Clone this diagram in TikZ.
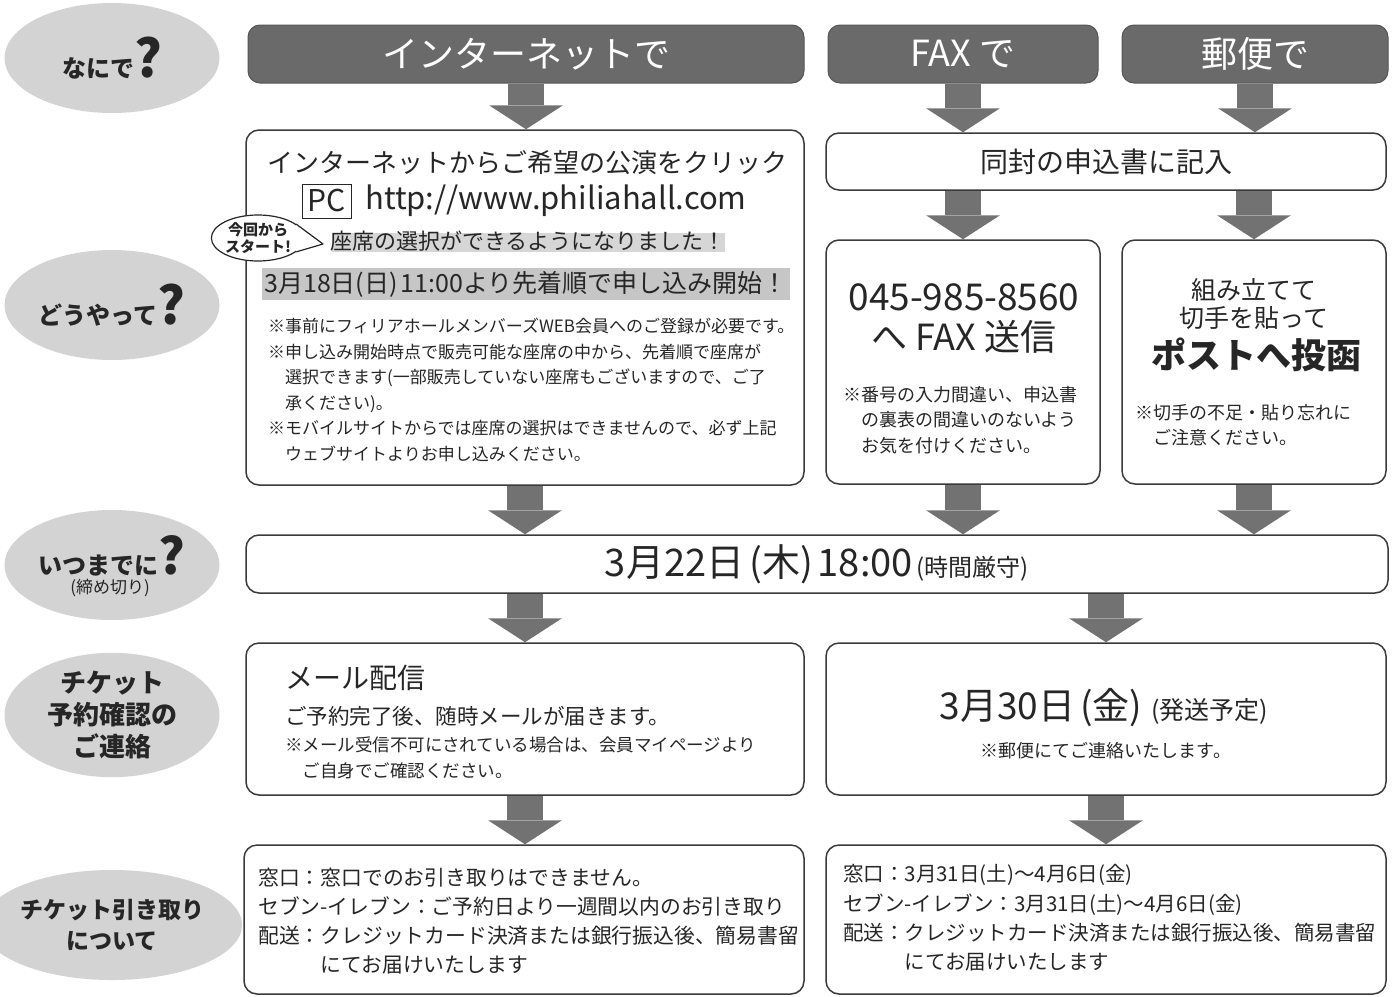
\documentclass[tikz,border=0pt]{standalone}
\usepackage{fontspec}
\setmainfont{Noto Sans CJK JP}
\usetikzlibrary{shapes.geometric,arrows.meta}

\definecolor{labelgray}{HTML}{D3D3D3}
\definecolor{headgray}{HTML}{6A6A6A}
\definecolor{arrowgray}{HTML}{727272}
\definecolor{boxline}{HTML}{3A3A3A}
\definecolor{bargray}{HTML}{C6C6C6}
\definecolor{hlgray}{HTML}{D6D6D6}
\definecolor{inkgray}{HTML}{262626}

\newcommand{\setfs}[2]{\fontsize{#1pt}{#2pt}\selectfont}

\tikzset{
  qlabel/.style={ellipse, fill=labelgray, minimum width=215pt, minimum height=110pt, inner sep=0pt, align=center},
  headbox/.style={fill=headgray, draw=headgray!80!black, line width=1pt, rounded corners=12pt, minimum height=58pt, inner sep=0pt, text=white, font=\setfs{36}{36}},
  flowbox/.style={draw=boxline, line width=1.5pt, rounded corners=13pt, fill=white, inner sep=0pt},
  downarrow/.style={draw=arrowgray, line width=36pt, -{Triangle[width=74pt,length=24pt,line width=0pt]}},
}

\begin{document}
\begin{tikzpicture}[x=1pt, y=-1pt, every node/.append style={text=inkgray}]
\useasboundingbox (0,0) rectangle (1399,996);

% question labels on the left
\node[qlabel, font=\bfseries\setfs{24}{24}] (qwhat) at (112,58) {なにで{\setfs{52}{52}?}};
\node[qlabel, font=\bfseries\setfs{24}{24}] (qhow) at (112,305) {どうやって{\setfs{52}{52}?}};
\node[qlabel] (qwhen) at (112,565) {};
\node[font=\bfseries\setfs{24}{24}] (qwhenmain) at (112,556) {いつまでに{\setfs{50}{50}?}};
\node[font=\setfs{17}{17}] (qwhensub) at (110,588) {(締め切り)};
\node[qlabel, font=\bfseries\setfs{26}{32}] (qconfirm) at (112,715) {チケット\\予約確認の\\ご連絡};
\node[qlabel, font=\bfseries\setfs{23}{31}] (qpickup) at (112,925) {チケット引き取り\\について};

% headers
\node[headbox, minimum width=556pt] (hnet) at (526,54) {インターネットで};
\node[headbox, minimum width=270pt] (hfax) at (963,54) {FAX で};
\node[headbox, minimum width=266pt] (hpost) at (1255,54) {郵便で};

% boxes
\node[flowbox, minimum width=558pt, minimum height=355pt] (netbox) at (525,307.5) {};
\node[flowbox, minimum width=560pt, minimum height=57pt, font=\setfs{28}{28}] (mailin) at (1106,161.5) {同封の申込書に記入};
\node[flowbox, minimum width=274pt, minimum height=244pt] (faxbox) at (963,362) {};
\node[flowbox, minimum width=264pt, minimum height=244pt] (postbox) at (1254,362) {};
\node[flowbox, minimum width=1142pt, minimum height=58pt] (deadline) at (817,564)
  {{\setfs{38}{38}3月22日\hspace{5pt}(木)\hspace{5pt}18:00}\hspace{4pt}{\setfs{24}{24}(時間厳守)}};
\node[flowbox, minimum width=558pt, minimum height=152pt] (mailbox) at (525,719) {};
\node[flowbox, minimum width=560pt, minimum height=152pt] (notifybox) at (1106,719) {};
\node[flowbox, minimum width=560pt, minimum height=149pt] (pickleft) at (524,919.5) {};
\node[flowbox, minimum width=560pt, minimum height=149pt] (pickright) at (1106,919.5) {};

% internet box contents
\node[font=\setfs{26}{26}] (nettitle) at (527,163) {インターネットからご希望の公演をクリック};
\node[draw=inkgray, line width=1pt, minimum width=49pt, minimum height=34pt, inner sep=0pt, font=\setfs{30}{30}] (pc) at (327,201) {PC};
\node[anchor=west, inner sep=0pt, font=\setfs{31}{31}] (url) at (365,201) {http://www.philiahall.com};
\fill[hlgray] (332,233) rectangle (725,252);
\node[font=\setfs{22}{22}] (seatnote) at (528,241) {座席の選択ができるようになりました！};
\node[ellipse, draw=inkgray, line width=1.2pt, fill=white, minimum width=80pt, minimum height=46pt, inner sep=0pt, align=center, font=\bfseries\setfs{15}{17}] (bubble) at (258,238) {今回から\\スタート!};
\fill[white] (bubble.20) -- (323,244) -- (bubble.-20) -- cycle;
\draw[inkgray, line width=1.2pt, line join=round] (bubble.20) -- (323,244) -- (bubble.-20);
\node[fill=bargray, minimum width=528pt, minimum height=32pt, inner sep=0pt, font=\setfs{25}{25}] (startbar) at (526,284) {3月18日(日)\hspace{3pt}11:00より先着順で申し込み開始！};
\node[anchor=west, align=left, inner sep=0pt, font=\setfs{17}{25.6}] (netnotes) at (268,390)
  {※事前にフィリアホールメンバーズWEB会員へのご登録が必要です。\\※申し込み開始時点で販売可能な座席の中から、先着順で座席が\\\hspace*{1em}選択できます(一部販売していない座席もございますので、ご了\\\hspace*{1em}承ください)。\\※モバイルサイトからでは座席の選択はできませんので、必ず上記\\\hspace*{1em}ウェブサイトよりお申し込みください。};

% fax box contents
\node[font=\setfs{37}{37}] (faxnum) at (964,297) {045-985-8560};
\node[font=\setfs{36}{36}] (faxsend) at (964,337) {へ FAX 送信};
\node[anchor=west, align=left, inner sep=0pt, font=\setfs{18}{25.5}] (faxnotes) at (843,420)
  {※番号の入力間違い、申込書\\\hspace*{1em}の裏表の間違いのないよう\\\hspace*{1em}お気を付けください。};

% post box contents
\node[font=\setfs{25}{25}] (posta) at (1254,290) {組み立てて};
\node[font=\setfs{25}{25}] (postb) at (1254,318) {切手を貼って};
\node[font=\bfseries\setfs{35}{35}] (postc) at (1256,355) {ポストへ投函};
\node[anchor=west, align=left, inner sep=0pt, font=\setfs{18}{25.5}] (postnotes) at (1135,425)
  {※切手の不足・貼り忘れに\\\hspace*{1em}ご注意ください。};

% mail box contents
\node[anchor=west, inner sep=0pt, font=\setfs{28}{28}] (mailtitle) at (285,678) {メール配信};
\node[anchor=west, inner sep=0pt, font=\setfs{21.5}{21.5}] (mailmsg) at (285,716) {ご予約完了後、随時メールが届きます。};
\node[anchor=west, align=left, inner sep=0pt, font=\setfs{17.5}{26}] (mailnotes) at (285,758)
  {※メール受信不可にされている場合は、会員マイページより\\\hspace*{1em}ご自身でご確認ください。};

% notify box contents
\node (notifydate) at (1104,708) {{\setfs{37}{37}3月30日\hspace{5pt}(金)}\hspace{9pt}{\setfs{25}{25}(発送予定)}};
\node[font=\setfs{18}{18}] (notifynote) at (1106,751) {※郵便にてご連絡いたします。};

% pick up contents
\node[anchor=west, align=left, inner sep=0pt, font=\setfs{20.8}{29}] (pickltext) at (258,921.5)
  {窓口：窓口でのお引き取りはできません。\\セブン-イレブン：ご予約日より一週間以内のお引き取り\\配送：クレジットカード決済または銀行振込後、簡易書留\\\hspace*{3em}にてお届けいたします};
\node[anchor=west, align=left, inner sep=0pt, font=\setfs{20.5}{29.3}] (pickrtext) at (843,918)
  {窓口：3月31日(土)～4月6日(金)\\セブン-イレブン：3月31日(土)～4月6日(金)\\配送：クレジットカード決済または銀行振込後、簡易書留\\\hspace*{3em}にてお届けいたします};

% arrows
\draw[downarrow] (hnet.south) -- (hnet.south |- netbox.north);
\draw[downarrow] (hfax.south) -- (hfax.south |- mailin.north);
\draw[downarrow] (hpost.south) -- (hpost.south |- mailin.north);
\draw[downarrow] (faxbox.north |- mailin.south) -- (faxbox.north);
\draw[downarrow] (postbox.north |- mailin.south) -- (postbox.north);
\draw[downarrow] (netbox.south) -- (netbox.south |- deadline.north);
\draw[downarrow] (faxbox.south) -- (faxbox.south |- deadline.north);
\draw[downarrow] (postbox.south) -- (postbox.south |- deadline.north);
\draw[downarrow] (netbox.south |- deadline.south) -- (mailbox.north);
\draw[downarrow] (notifybox.north |- deadline.south) -- (notifybox.north);
\draw[downarrow] (mailbox.south) -- (mailbox.south |- pickleft.north);
\draw[downarrow] (notifybox.south) -- (notifybox.south |- pickright.north);
\end{tikzpicture}
\end{document}
